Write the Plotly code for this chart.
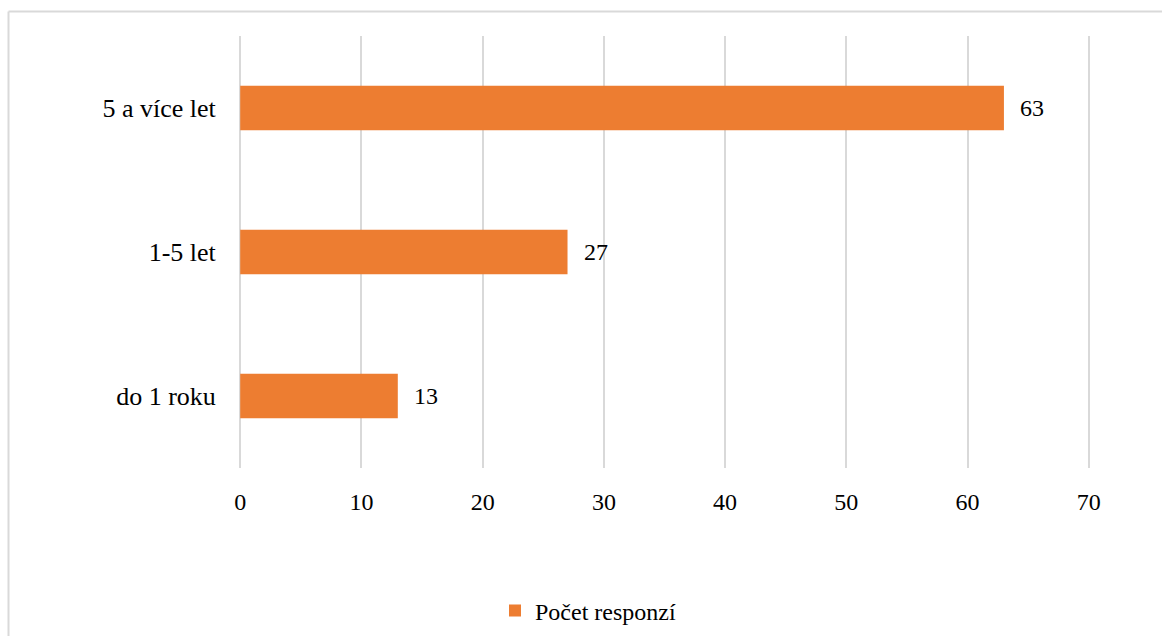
import plotly.graph_objects as go

categories = ["do 1 roku", "1-5 let", "5 a více let"]
values = [13, 27, 63]
series_name = "Počet responzí"
x_ticks = [0, 10, 20, 30, 40, 50, 60, 70]

ORANGE = "#ED7D31"
FONT = "Times New Roman"

fig = go.Figure()
fig.add_trace(go.Bar(
    y=categories, x=values, orientation="h", name=series_name,
    marker=dict(color=ORANGE, line=dict(width=0)),
    showlegend=True,
))

for c, v in zip(categories, values):
    fig.add_annotation(x=v, y=c, text=str(v), showarrow=False,
                       xanchor="left", yanchor="middle", xshift=14,
                       font=dict(family=FONT, size=24, color="#000000"))

W, H = 1162, 636
L, R, T, B = 239, 72, 36, 168
pw, ph = W - L - R, H - T - B
fig.update_layout(
    width=W, height=H,
    margin=dict(l=L, r=R, t=T, b=B, autoexpand=False),
    paper_bgcolor="white", plot_bgcolor="white",
    font=dict(family=FONT, size=24, color="#000000"),
    bargap=0.69,
    xaxis=dict(range=[-0.1, 70.1], tickvals=x_ticks, showgrid=True,
               gridcolor="#D9D9D9", gridwidth=2, zeroline=False,
               showline=False, ticks="outside", ticklen=12, tickcolor="white",
               tickfont=dict(family=FONT, size=24, color="#000000")),
    yaxis=dict(categoryorder="array", categoryarray=categories,
               showgrid=False, zeroline=False, showline=False,
               ticks="outside", ticklen=17, tickcolor="white",
               tickfont=dict(family=FONT, size=26, color="#000000")),
    legend=dict(orientation="h", x=(588 - L) / pw, xanchor="center",
                y=(468 - 611) / ph, yanchor="middle",
                font=dict(family=FONT, size=24, color="#000000"), itemwidth=30),
)

# chart border (top and left edges visible)
x_left = (8.5 - L) / pw
y_top = (H - B - 11.5) / ph
fig.add_shape(type="line", xref="paper", yref="paper",
              x0=x_left, x1=(W + 5 - L) / pw, y0=y_top, y1=y_top,
              line=dict(color="#D9D9D9", width=2))
fig.add_shape(type="line", xref="paper", yref="paper",
              x0=x_left, x1=x_left, y0=y_top, y1=(H - B - H - 5) / ph,
              line=dict(color="#D9D9D9", width=2))

fig.write_html("out.html")
